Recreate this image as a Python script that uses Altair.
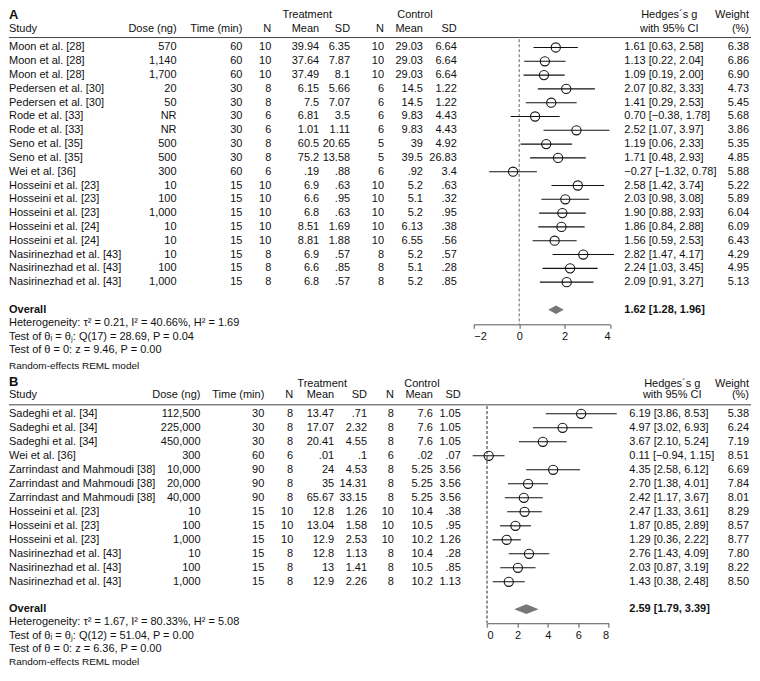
import altair as alt
import pandas as pd

# ---------------- Panel A data ----------------
studies_a = ["Moon et al. [28]"] * 3 + ["Pedersen et al. [30]"] * 2 + ["Rode et al. [33]"] * 2 + \
            ["Seno et al. [35]"] * 2 + ["Wei et al. [36]"] + ["Hosseini et al. [23]"] * 3 + \
            ["Hosseini et al. [24]"] * 2 + ["Nasirinezhad et al. [43]"] * 3
dose_a = ["570", "1,140", "1,700", "20", "50", "NR", "NR", "500", "500", "300",
          "10", "100", "1,000", "10", "10", "10", "100", "1,000"]
time_a = [60, 60, 60, 30, 30, 30, 30, 30, 30, 60, 15, 15, 15, 15, 15, 15, 15, 15]
tn_a = [10, 10, 10, 8, 8, 6, 6, 8, 8, 6, 10, 10, 10, 10, 10, 8, 8, 8]
tmean_a = ["39.94", "37.64", "37.49", "6.15", "7.5", "6.81", "1.01", "60.5", "75.2", ".19",
           "6.9", "6.6", "6.8", "8.51", "8.81", "6.9", "6.6", "6.8"]
tsd_a = ["6.35", "7.87", "8.1", "5.66", "7.07", "3.5", "1.11", "20.65", "13.58", ".88",
         ".63", ".95", ".63", "1.69", "1.88", ".57", ".85", ".57"]
cn_a = [10, 10, 10, 6, 6, 6, 6, 5, 5, 6, 10, 10, 10, 10, 10, 8, 8, 8]
cmean_a = ["29.03", "29.03", "29.03", "14.5", "14.5", "9.83", "9.83", "39", "39.5", ".92",
           "5.2", "5.1", "5.2", "6.13", "6.55", "5.2", "5.1", "5.2"]
csd_a = ["6.64", "6.64", "6.64", "1.22", "1.22", "4.43", "4.43", "4.92", "26.83", "3.4",
         ".63", ".32", ".95", ".38", ".56", ".57", ".28", ".85"]
g_a = [1.61, 1.13, 1.09, 2.07, 1.41, 0.70, 2.52, 1.19, 1.71, -0.27, 2.58, 2.03, 1.90, 1.86, 1.56, 2.82, 2.24, 2.09]
lo_a = [0.63, 0.22, 0.19, 0.82, 0.29, -0.38, 1.07, 0.06, 0.48, -1.32, 1.42, 0.98, 0.88, 0.84, 0.59, 1.47, 1.03, 0.91]
hi_a = [2.58, 2.04, 2.00, 3.33, 2.53, 1.78, 3.97, 2.33, 2.93, 0.78, 3.74, 3.08, 2.93, 2.88, 2.53, 4.17, 3.45, 3.27]
w_a = [6.38, 6.86, 6.90, 4.73, 5.45, 5.68, 3.86, 5.35, 4.85, 5.88, 5.22, 5.89, 6.04, 6.09, 6.43, 4.29, 4.95, 5.13]
overall_a = [1.62, 1.28, 1.96]
footer_a = ["Heterogeneity: \u03c4\u00b2 = 0.21, I\u00b2 = 40.66%, H\u00b2 = 1.69",
            "Test of \u03b8\u1d62 = \u03b8\u2c7c: Q(17) = 28.69, P = 0.04",
            "Test of \u03b8 = 0: z = 9.46, P = 0.00"]

# ---------------- Panel B data ----------------
studies_b = ["Sadeghi et al. [34]"] * 3 + ["Wei et al. [36]"] + ["Zarrindast and Mahmoudi [38]"] * 3 + \
            ["Hosseini et al. [23]"] * 3 + ["Nasirinezhad et al. [43]"] * 3
dose_b = ["112,500", "225,000", "450,000", "300", "10,000", "20,000", "40,000",
          "10", "100", "1,000", "10", "100", "1,000"]
time_b = [30, 30, 30, 60, 90, 90, 90, 15, 15, 15, 15, 15, 15]
tn_b = [8, 8, 8, 6, 8, 8, 8, 10, 10, 10, 8, 8, 8]
tmean_b = ["13.47", "17.07", "20.41", ".01", "24", "35", "65.67", "12.8", "13.04", "12.9", "12.8", "13", "12.9"]
tsd_b = [".71", "2.32", "4.55", ".1", "4.53", "14.31", "33.15", "1.26", "1.58", "2.53", "1.13", "1.41", "2.26"]
cn_b = [8, 8, 8, 6, 8, 8, 8, 10, 10, 10, 8, 8, 8]
cmean_b = ["7.6", "7.6", "7.6", ".02", "5.25", "5.25", "5.25", "10.4", "10.5", "10.2", "10.4", "10.5", "10.2"]
csd_b = ["1.05", "1.05", "1.05", ".07", "3.56", "3.56", "3.56", ".38", ".95", "1.26", ".28", ".85", "1.13"]
g_b = [6.19, 4.97, 3.67, 0.11, 4.35, 2.70, 2.42, 2.47, 1.87, 1.29, 2.76, 2.03, 1.43]
lo_b = [3.86, 3.02, 2.10, -0.94, 2.58, 1.38, 1.17, 1.33, 0.85, 0.36, 1.43, 0.87, 0.38]
hi_b = [8.53, 6.93, 5.24, 1.15, 6.12, 4.01, 3.67, 3.61, 2.89, 2.22, 4.09, 3.19, 2.48]
w_b = [5.38, 6.24, 7.19, 8.51, 6.69, 7.84, 8.01, 8.29, 8.57, 8.77, 7.80, 8.22, 8.50]
overall_b = [2.59, 1.79, 3.39]
footer_b = ["Heterogeneity: \u03c4\u00b2 = 1.67, I\u00b2 = 80.33%, H\u00b2 = 5.08",
            "Test of \u03b8\u1d62 = \u03b8\u2c7c: Q(12) = 51.04, P = 0.00",
            "Test of \u03b8 = 0: z = 6.36, P = 0.00"]

FONT = "Liberation Sans"
TXT = "#111111"
W = 744


def minus(s):
    return s.replace("-", "\u2212")


def ci_text(g, lo, hi):
    return minus(f"{g:.2f} [{lo:.2f}, {hi:.2f}]")


def build_panel(letter, studies, dose, time, tn, tmean, tsd, cn, cmean, csd,
                g, lo, hi, w, overall, footer, lay):
    n = len(studies)
    df = pd.DataFrame({
        "r": list(range(n)), "study": studies, "dose": dose,
        "time": [str(v) for v in time], "tn": [str(v) for v in tn],
        "tmean": tmean, "tsd": tsd, "cn": [str(v) for v in cn],
        "cmean": cmean, "csd": csd, "g": g, "lo": lo, "hi": hi,
        "ci": [ci_text(a, b, c) for a, b, c in zip(g, lo, hi)],
        "w": [f"{v:.2f}" for v in w],
    })
    H = lay["H"]
    y0, dy = lay["y0"], lay["dy"]
    ys = alt.Scale(domain=[-y0 / dy, (H - y0) / dy], range=[0, H], nice=False, zero=False)
    Y = alt.Y("r:Q", scale=ys, axis=None)
    xs = alt.Scale(domain=lay["xdom"], range=lay["xrange"], nice=False, zero=False)
    axis_r = (lay["axis_px"] - y0) / dy
    xaxis = alt.Axis(values=lay["ticks"], title=None, grid=False, offset=lay["axis_px"] - H,
                     tickSize=4, tickColor="#555555", domainColor="#555555", tickWidth=1,
                     domainWidth=1, labelFont=FONT, labelFontSize=11, labelColor=TXT,
                     labelPadding=2, format="d")

    layers = []

    def label(text, x, r, align="left", size=11, bold=False):
        return alt.Chart(pd.DataFrame({"r": [r]})).mark_text(
            text=text, align=align, fontSize=size, font=FONT, color=TXT,
            fontWeight="bold" if bold else "normal", baseline="middle"
        ).encode(x=alt.value(x), y=Y)

    def col(field, x, align):
        return alt.Chart(df).mark_text(
            align=align, fontSize=11, font=FONT, color=TXT, baseline="middle"
        ).encode(x=alt.value(x), y=Y, text=f"{field}:N")

    c = lay["cols"]
    # header line
    layers.append(alt.Chart(pd.DataFrame({"r": [lay["hline"]]})).mark_rule(
        color="#444444", strokeWidth=1).encode(x=alt.value(0), x2=alt.value(W), y=Y))
    # dashed zero line
    layers.append(alt.Chart(pd.DataFrame({"x": [0.0], "r": [lay["dash_top"]], "r2": [axis_r]})).mark_rule(
        color=lay["dash_color"], strokeWidth=1, strokeDash=[3, 2]
    ).encode(x=alt.X("x:Q", scale=xs, axis=xaxis), y=alt.Y("r:Q", scale=ys, axis=None), y2="r2:Q"))
    # CI lines
    layers.append(alt.Chart(df).mark_rule(color="#111111", strokeWidth=1.1).encode(
        x=alt.X("lo:Q", scale=xs, axis=xaxis), x2="hi:Q", y=Y))
    # estimates
    layers.append(alt.Chart(df).mark_point(shape="circle", filled=False, size=85, color="#111111",
                                           strokeWidth=1.1, opacity=1).encode(
        x=alt.X("g:Q", scale=xs, axis=xaxis), y=Y))
    # overall diamond
    og, olo, ohi = overall
    ro = lay["overall_r"]
    hh = lay["diamond_half"]
    dd = pd.DataFrame({"x": [olo, og, ohi], "r": [ro, ro - hh, ro], "r2": [ro, ro + hh, ro]})
    layers.append(alt.Chart(dd).mark_area(orient="vertical", color="#777777", opacity=1).encode(
        x=alt.X("x:Q", scale=xs, axis=xaxis), y=alt.Y("r:Q", scale=ys, axis=None), y2="r2:Q"))

    # header texts
    rt, rh = lay["r_top"], lay["r_head"]
    layers += [
        label(letter, 0, lay["r_letter"], size=13, bold=True),
        label("Treatment", c["treat_c"], rt, "center"),
        label("Control", c["ctrl_c"], rt, "center"),
        label("Hedges\u00b4s g", c["hed_c"], rt, "center"),
        label("Weight", c["w"], rt, "right"),
        label("Study", 0, rh),
        label("Dose (ng)", c["dose"], rh, "right"),
        label("Time (min)", c["time"], rh, "right"),
        label("N", c["tn"], rh, "right"),
        label("Mean", c["tmean"], rh, "right"),
        label("SD", c["tsd"], rh, "right"),
        label("N", c["cn"], rh, "right"),
        label("Mean", c["cmean"], rh, "right"),
        label("SD", c["csd"], rh, "right"),
        label("with 95% CI", c["hed_c"], rh, "center"),
        label("(%)", c["w"], rh, "right"),
    ]
    # table columns
    layers += [
        col("study", 0, "left"),
        col("dose", c["dose"], "right"),
        col("time", c["time"], "right"),
        col("tn", c["tn"], "right"),
        col("tmean", c["tmean"], "right"),
        col("tsd", c["tsd"], "right"),
        col("cn", c["cn"], "right"),
        col("cmean", c["cmean"], "right"),
        col("csd", c["csd"], "right"),
        col("ci", c["ci"], "left"),
        col("w", c["w"], "right"),
    ]
    # overall + footers
    layers += [
        label("Overall", 0, ro, bold=True),
        label(ci_text(og, olo, ohi), c["ci"], ro, bold=True),
    ]
    for txt, r in zip(footer, lay["footer_r"]):
        layers.append(label(txt, 0, r))
    layers.append(label("Random-effects REML model", 0, lay["model_r"], size=10))

    return alt.layer(*layers).properties(width=W, height=H)


lay_a = dict(
    H=368, y0=37.7, dy=13.84,
    xdom=[-2, 4], xrange=[466, 602.7], ticks=[-2, 0, 2, 4], axis_px=315.3,
    r_letter=-2.36, r_top=-2.33, r_head=-1.35, hline=-0.72, dash_top=-0.6, overall_r=19.0,
    diamond_half=0.3, footer_r=[19.94, 20.97, 21.94], model_r=23.07,
    dash_color="#666666",
    cols=dict(dose=168, time=234, tn=263, tmean=311, tsd=342, cn=376, cmean=415, csd=449,
              ci=617, w=742, treat_c=299, ctrl_c=407, hed_c=662),
)
lay_b = dict(
    H=292, y0=37.0, dy=14.04,
    xdom=[0, 8], xrange=[479.3, 601.3], ticks=[0, 2, 4, 6, 8], axis_px=247.0,
    r_letter=-2.25, r_top=-2.13, r_head=-1.31, hline=-0.64, dash_top=-0.55, overall_r=13.95,
    diamond_half=0.34, footer_r=[14.9, 15.85, 16.8], model_r=17.75,
    dash_color="#222222",
    cols=dict(dose=192, time=256, tn=285, tmean=326, tsd=359, cn=386, cmean=425, csd=453,
              ci=622, w=742, treat_c=314, ctrl_c=414, hed_c=665),
)

pa = build_panel("A", studies_a, dose_a, time_a, tn_a, tmean_a, tsd_a, cn_a, cmean_a, csd_a,
                 g_a, lo_a, hi_a, w_a, overall_a, footer_a, lay_a)
pb = build_panel("B", studies_b, dose_b, time_b, tn_b, tmean_b, tsd_b, cn_b, cmean_b, csd_b,
                 g_b, lo_b, hi_b, w_b, overall_b, footer_b, lay_b)

chart = alt.vconcat(pa, pb, spacing=0, bounds="flush").properties(
    padding=0, background="white"
).configure_view(stroke=None)

chart.save("out.html", embed_options={"renderer": "svg", "actions": False})
